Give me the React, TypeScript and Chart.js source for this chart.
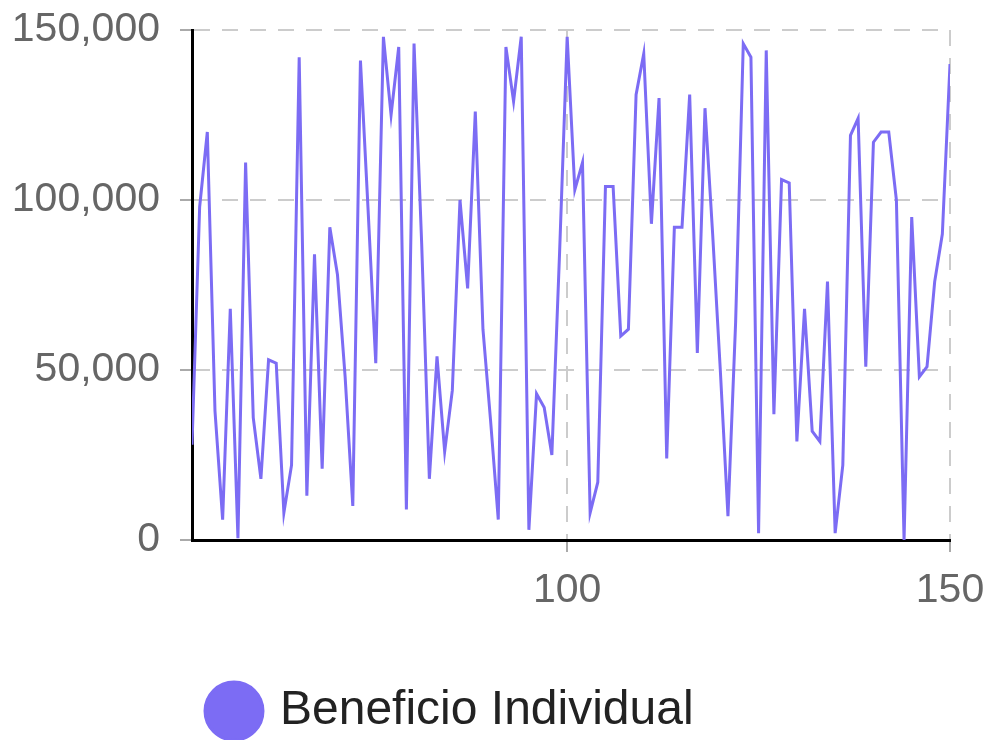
import React, { useEffect, useRef } from "react";
import { Chart, registerables } from "chart.js";

Chart.register(...registerables);

const seriesLabel = "Beneficio Individual";

const xValues = [
  51, 52, 53, 54, 55, 56, 57, 58, 59, 60,
  61, 62, 63, 64, 65, 66, 67, 68, 69, 70,
  71, 72, 73, 74, 75, 76, 77, 78, 79, 80,
  81, 82, 83, 84, 85, 86, 87, 88, 89, 90,
  91, 92, 93, 94, 95, 96, 97, 98, 99, 100,
  101, 102, 103, 104, 105, 106, 107, 108, 109, 110,
  111, 112, 113, 114, 115, 116, 117, 118, 119, 120,
  121, 122, 123, 124, 125, 126, 127, 128, 129, 130,
  131, 132, 133, 134, 135, 136, 137, 138, 139, 140,
  141, 142, 143, 144, 145, 146, 147, 148, 149, 150,
];

const benefitValues = [
  28000, 98000, 120000, 38000, 6000, 68000, 500, 111000, 36000, 18000,
  53000, 52000, 8000, 22000, 142000, 13000, 84000, 21000, 92000, 78000,
  48000, 10000, 141000, 97000, 52000, 148000, 125000, 145000, 9000, 146000,
  87000, 18000, 54000, 26000, 44000, 100000, 74000, 126000, 62000, 35000,
  6000, 145000, 129000, 148000, 3000, 43000, 39000, 25000, 84000, 148000,
  103000, 111000, 8000, 17000, 104000, 104000, 60000, 62000, 131000, 143000,
  93000, 130000, 24000, 92000, 92000, 131000, 55000, 127000, 90000, 50000,
  7000, 64000, 146000, 142000, 2000, 144000, 37000, 106000, 105000, 29000,
  68000, 32000, 29000, 76000, 2000, 22000, 119000, 124000, 51000, 117000,
  120000, 120000, 100000, 0, 95000, 48000, 51000, 76000, 90000, 140000,
];

const xTickValues = [100, 150];
const yTickValues = [0, 50000, 100000, 150000];

const lineColor = "#7c6cf4";
const fontFamily = "'Liberation Sans', Arial, sans-serif";

export default function App() {
  const ref = useRef<HTMLCanvasElement>(null);

  useEffect(() => {
    if (!ref.current) return;
    const legendPlace = {
      id: "legendPlace",
      afterLayout(chart: any) {
        const lg = chart.legend;
        if (!lg || !lg.lineWidths) return;
        const pad = lg.options.labels.padding || 0;
        const targetX = 204;
        const targetCenterY = 703;
        lg.left = 0;
        lg.right = 2 * targetX - pad + lg.lineWidths[0];
        const curCenter = lg.top + pad + 24;
        const dy = targetCenterY - curCenter;
        lg.top += dy;
        lg.bottom += dy;
      },
    };
    const chart = new Chart(ref.current, {
      type: "line",
      data: {
        datasets: [
          {
            label: seriesLabel,
            data: xValues.map((x, i) => ({ x, y: benefitValues[i] })),
            borderColor: lineColor,
            backgroundColor: lineColor,
            borderWidth: 3,
            pointRadius: 0,
            pointHoverRadius: 0,
            tension: 0,
          },
        ],
      },
      options: {
        responsive: false,
        animation: false,
        layout: { padding: { top: 22, right: 34, left: 0, bottom: 0 } },
        plugins: {
          legend: {
            position: "bottom",
            align: "center",
            labels: {
              usePointStyle: true,
              pointStyle: "circle",
              boxWidth: 44,
              boxHeight: 41,
              padding: 10,
              color: "#222",
              font: { size: 48, family: fontFamily },
            },
          },
          tooltip: { enabled: false },
        },
        scales: {
          x: {
            type: "linear",
            min: 51,
            max: 150,
            afterBuildTicks: (s: any) => {
              s.ticks = xTickValues.map((v) => ({ value: v }));
            },
            afterFit: (s: any) => {
              s.height = 132;
              s.paddingLeft = 0;
              s.paddingRight = 0;
            },
            grid: {
              color: "#cccccc",
              lineWidth: 2,
              tickLength: 12,
              tickColor: "#aaaaaa",
              tickWidth: 2,
            },
            border: { color: "#000", width: 3, dash: [16, 12] },
            ticks: {
              color: "#666",
              padding: 14,
              maxRotation: 0,
              autoSkip: false,
              font: { size: 41, family: fontFamily },
              callback: (v: any) => String(v),
            },
          },
          y: {
            type: "linear",
            min: 0,
            max: 150000,
            afterBuildTicks: (s: any) => {
              s.ticks = yTickValues.map((v) => ({ value: v }));
            },
            afterFit: (s: any) => {
              s.width = 184;
              s.paddingTop = 0;
              s.paddingBottom = 0;
            },
            grid: {
              color: "#cccccc",
              lineWidth: 2,
              tickLength: 12,
              tickColor: "#aaaaaa",
              tickWidth: 2,
            },
            border: { color: "#000", width: 3, dash: [16, 12] },
            ticks: {
              color: "#666",
              padding: 20,
              autoSkip: false,
              font: { size: 41, family: fontFamily },
              callback: (v: any) => Number(v).toLocaleString("en-US"),
            },
          },
        },
      },
      plugins: [legendPlace],
    });
    return () => chart.destroy();
  }, []);

  return (
    <canvas
      ref={ref}
      width={976}
      height={732}
      style={{ display: "block", width: 976, height: 732 }}
    />
  );
}
